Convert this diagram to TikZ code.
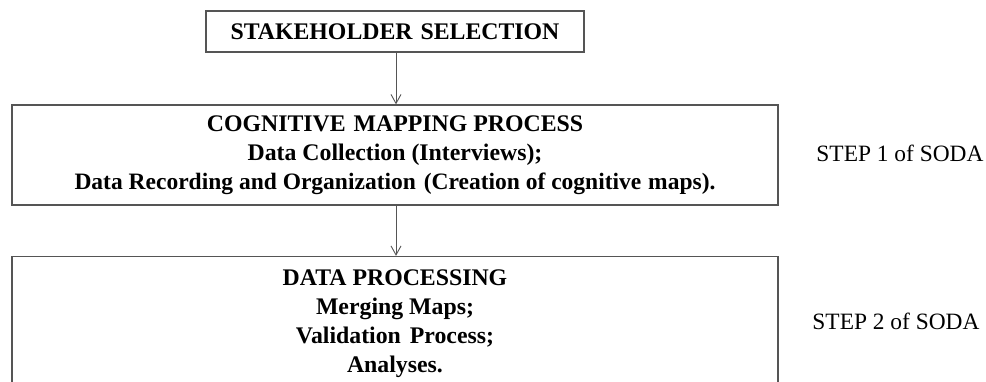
\documentclass[tikz,border=0pt]{standalone}
\usepackage{fontspec}
\setmainfont{Liberation Serif}
\usetikzlibrary{arrows.meta}

\definecolor{edgegray}{HTML}{555555}

\tikzset{
  stagebox/.style={draw=edgegray, line width=1.3pt, align=center,
    font=\bfseries\fontsize{23.8}{29}\selectfont, inner sep=0pt},
  flowarrow/.style={draw=edgegray, line width=0.9pt,
    -{Straight Barb[length=9pt,width=10pt,line width=0.9pt]}},
  steplabel/.style={font=\fontsize{23.4}{29}\selectfont, anchor=base}
}

\begin{document}
\begin{tikzpicture}[x=1pt, y=-1pt]
  \useasboundingbox (0,0) rectangle (986,381);
  \fill[white] (0,0) rectangle (986,381);

  \begin{scope}
    \clip (0,0) rectangle (986,381);

    % stakeholder selection
    \node[stagebox, minimum width=378pt, minimum height=41pt] (sel) at (395,31.5)
      {STAKEHOLDER\hspace{2pt} SELECTION};

    % step 1: cognitive mapping
    \node[stagebox, minimum width=766pt, minimum height=100pt] (cog) at (395,155)
      {COGNITIVE\hspace{2pt} MAPPING PROCESS\\
       Data Collection (Interviews);\\
       \fontsize{23.5}{29}\selectfont Data Recording and Organization\hspace{2pt} (Creation of cognitive\hspace{1pt} maps).};

    % step 2: data processing (runs past the lower edge)
    \node[stagebox, minimum width=766pt, minimum height=135pt] (proc) at (395,324)
      {DATA PROCESSING\\
       Merging Maps;\\
       Validation\hspace{3pt} Process;\\
       Analyses.};
  \end{scope}

  \draw[flowarrow] (sel.south -| 396,0) -- (cog.north -| 396,0);
  \draw[flowarrow] (cog.south -| 396,0) -- (proc.north -| 396,0);

  \node[steplabel] (s1) at (900,161.5) {STEP 1 of SODA};
  \node[steplabel] (s2) at (896,329.5) {STEP 2 of SODA};
\end{tikzpicture}
\end{document}
